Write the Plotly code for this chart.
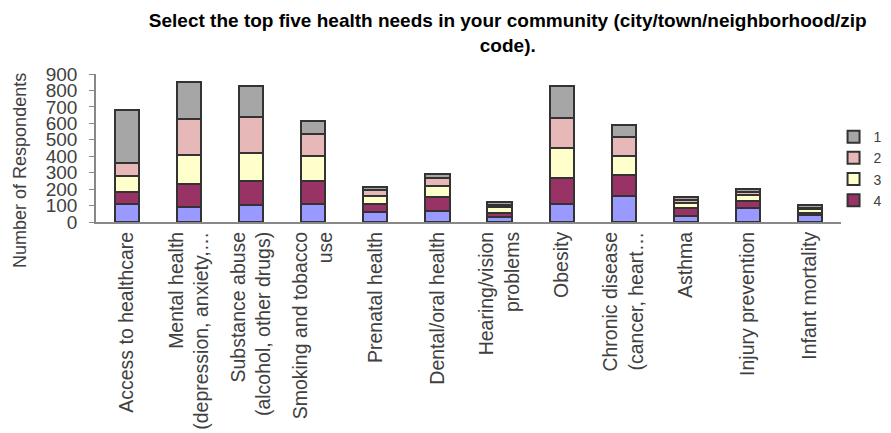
import plotly.graph_objects as go

categories = [
    "Access to healthcare",
    "Mental health<br>(depression, anxiety,…",
    "Substance abuse<br>(alcohol, other drugs)",
    "Smoking and tobacco<br>use",
    "Prenatal health",
    "Dental/oral health",
    "Hearing/vision<br>problems",
    "Obesity",
    "Chronic disease<br>(cancer, heart…",
    "Asthma",
    "Injury prevention",
    "Infant mortality",
]

rank5 = [109, 93, 101, 109, 61, 69, 30, 111, 156, 38, 83, 43]
rank4 = [72, 138, 148, 142, 48, 85, 25, 157, 130, 49, 47, 14]
rank3 = [97, 178, 170, 150, 47, 65, 36, 180, 115, 30, 34, 20]
rank2 = [81, 217, 222, 134, 41, 51, 14, 185, 116, 19, 17, 6]
rank1 = [320, 225, 188, 81, 16, 20, 19, 192, 73, 16, 18, 18]

y_ticks = [0, 100, 200, 300, 400, 500, 600, 700, 800, 900]

series = [
    ("5", rank5, "#9999FF", False),
    ("4", rank4, "#993366", True),
    ("3", rank3, "#FFFFCC", True),
    ("2", rank2, "#E6B9B8", True),
    ("1", rank1, "#A6A6A6", True),
]

fig = go.Figure()
for name, vals, color, show in series:
    fig.add_trace(go.Bar(
        x=categories, y=vals, name=name, showlegend=show,
        marker=dict(color=color, line=dict(color="#333333", width=2)),
    ))

font_family = "Liberation Sans, Arial, sans-serif"
fig.update_layout(
    barmode="stack",
    bargap=0.61,
    width=883, height=425,
    margin=dict(l=88, r=50, t=66, b=211, autoexpand=False),
    paper_bgcolor="white", plot_bgcolor="white",
    font=dict(family=font_family, color="#404040", size=17),
    title=dict(
        text="Select the top five health needs in your community (city/town/neighborhood/zip<br>code).",
        font=dict(family="Liberation Sans Narrow, Arial Narrow, Liberation Sans, sans-serif",
                  size=19, color="#000000", weight="bold"),
        x=0.566, xanchor="center", y=0.955, yanchor="top",
    ),
    legend=dict(
        x=0.99, xanchor="left", y=0.682, yanchor="top",
        traceorder="reversed",
        font=dict(size=14, color="#404040"),
        itemwidth=30, tracegroupgap=0,
    ),
    xaxis=dict(
        tickangle=-90, showline=True, linecolor="#888888", linewidth=2,
        ticks="", tickfont=dict(size=19.5, color="#404040"), automargin=False,
    ),
    yaxis=dict(
        range=[0, 900], tickvals=y_ticks, showgrid=False,
        showline=True, linecolor="#888888", linewidth=1.5,
        ticks="outside", ticklen=5, tickcolor="#888888",
        tickfont=dict(size=19, color="#404040"), ticklabelstandoff=8,
        zeroline=False, automargin=False,
    ),
    annotations=[dict(
        text="Number of Respondents", textangle=-90, showarrow=False,
        xref="paper", yref="paper", x=-0.102, y=0.345,
        xanchor="center", yanchor="middle",
        font=dict(size=18, color="#404040"),
    )],
)

fig.write_html("out.html")
